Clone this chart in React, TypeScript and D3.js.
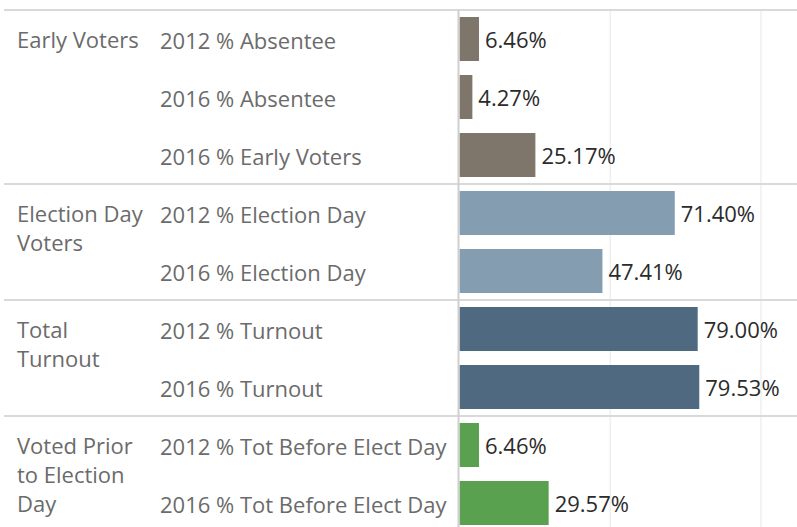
import React from "react";
import * as d3 from "d3";

const groups = ["Early Voters", "Election Day Voters", "Total Turnout", "Voted Prior to Election Day"];
const groupLines = [["Early Voters"], ["Election Day", "Voters"], ["Total", "Turnout"], ["Voted Prior", "to Election", "Day"]];
const categories = [
  "2012 % Absentee",
  "2016 % Absentee",
  "2016 % Early Voters",
  "2012 % Election Day",
  "2016 % Election Day",
  "2012 % Turnout",
  "2016 % Turnout",
  "2012 % Tot Before Elect Day",
  "2016 % Tot Before Elect Day",
];
const categoryGroup = [0, 0, 0, 1, 1, 2, 2, 3, 3];
const values = [6.46, 4.27, 25.17, 71.4, 47.41, 79.0, 79.53, 6.46, 29.57];
const groupColors = ["#7f766b", "#849db1", "#4f6980", "#59a14f"];
const gridTicks = [50, 100];

const W = 797;
const H = 527;
const TOP = 10;
const ROW = 58;
const FONT = "'Open Sans', 'Noto Sans', sans-serif";

export default function App() {
  const x = d3.scaleLinear().domain([0, 100]).range([459.5, 761]);
  const y = d3
    .scaleBand<number>()
    .domain(d3.range(categories.length))
    .range([TOP, TOP + ROW * categories.length])
    .paddingInner(14 / 58)
    .paddingOuter(7 / 58);
  const rowStart = (i: number) => TOP + ROW * i;
  const groupStart = groups.map((_, g) => categoryGroup.indexOf(g));

  return (
    <svg width={W} height={H} style={{ position: "absolute", left: 0, top: 0, background: "#fff" }} fontFamily={FONT}>
      {gridTicks.map((t) => (
        <line key={t} x1={x(t)} x2={x(t)} y1={TOP} y2={H} stroke="#efefef" strokeWidth={1.5} />
      ))}
      {groupStart.map((s, g) => (
        <line key={g} x1={4} x2={W} y1={rowStart(s)} y2={rowStart(s)} stroke="#d9d9d9" strokeWidth={2} />
      ))}
      {values.map((v, i) => (
        <g key={i}>
          <rect
            x={x(0)}
            y={y(i)!}
            width={x(v) - x(0)}
            height={y.bandwidth()}
            fill={groupColors[categoryGroup[i]]}
          />
          <text
            x={x(v) + 6}
            y={y(i)! + y.bandwidth() / 2}
            dominantBaseline="central"
            fontSize={22}
            fill="#2b2b2b"
          >
            {v.toFixed(2) + "%"}
          </text>
          <text
            x={160}
            y={rowStart(i) + ROW / 2 + 1}
            dominantBaseline="central"
            fontSize={22}
            fill="#6b6b6b"
          >
            {categories[i]}
          </text>
        </g>
      ))}
      {groupLines.map((lines, g) =>
        lines.map((ln, k) => (
          <text
            key={g + "-" + k}
            x={17}
            y={rowStart(groupStart[g]) + ROW / 2 + k * 29}
            dominantBaseline="central"
            fontSize={22}
            fill="#6b6b6b"
          >
            {ln}
          </text>
        ))
      )}
      <line x1={458.5} x2={458.5} y1={TOP} y2={H} stroke="#cfcfcf" strokeWidth={2} />
    </svg>
  );
}
